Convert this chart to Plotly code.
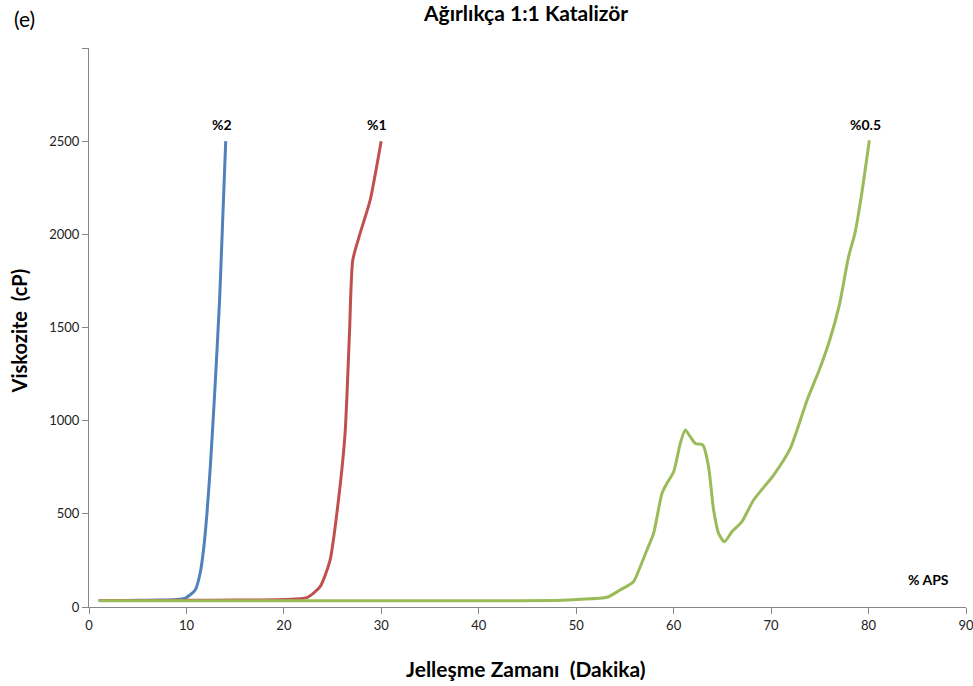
import plotly.graph_objects as go

# %2 APS
x_aps2 = [1, 3, 5, 7, 9, 9.9, 10.9, 11.4, 11.75, 12.1, 12.45, 12.9, 13.4, 13.7, 14.03]
y_aps2 = [35, 35, 36, 37, 40, 48, 91, 180, 306, 500, 753, 1150, 1647, 2050, 2500]

# %1 APS
x_aps1 = [1, 5, 10, 15, 20, 22.35, 23.72, 24.74, 25.6, 26.28, 26.73, 27.07, 27.82, 28.85, 29.98]
y_aps1 = [35, 35, 36, 37, 40, 50, 109, 252, 574, 932, 1468, 1862, 2005, 2183, 2500]

# %0.5 APS
x_aps05 = [1, 10, 20, 30, 40, 48, 50.4, 53.15, 54.5, 55.88, 56.57, 57.26, 57.94, 58.8, 59.31,
           60, 60.68, 61.19, 61.7, 62.22, 63.0, 63.58, 64.1, 64.61, 65.2, 65.98, 67.0, 68.2,
           70.26, 71.97, 73.69, 75, 76, 77, 77.95, 78.6, 79.3, 80.08]
y_aps05 = [33, 33, 33, 33, 33, 35, 41, 52, 91, 136, 216, 306, 395, 610, 664,
           726, 878, 950, 914, 878, 869, 753, 520, 395, 350, 404, 458, 574,
           708, 851, 1110, 1280, 1430, 1620, 1880, 2005, 2219, 2505]

x_ticks = [0, 10, 20, 30, 40, 50, 60, 70, 80, 90]
y_ticks = [0, 500, 1000, 1500, 2000, 2500, 3000]
y_tick_text = ["0", "500", "1000", "1500", "2000", "2500", ""]

FONT = "Lato, 'Open Sans', sans-serif"

fig = go.Figure()
fig.add_trace(go.Scatter(x=x_aps2, y=y_aps2, mode="lines", name="%2",
                         line=dict(color="#4F81BD", width=3, shape="spline", smoothing=0.6)))
fig.add_trace(go.Scatter(x=x_aps1, y=y_aps1, mode="lines", name="%1",
                         line=dict(color="#C0504D", width=3, shape="spline", smoothing=0.6)))
fig.add_trace(go.Scatter(x=x_aps05, y=y_aps05, mode="lines", name="%0.5",
                         line=dict(color="#9BBB59", width=3, shape="spline", smoothing=0.6)))

fig.update_layout(
    width=973, height=686,
    margin=dict(l=89, r=7, t=48, b=79, autoexpand=False),
    paper_bgcolor="white", plot_bgcolor="white",
    showlegend=False,
    font=dict(family=FONT, size=13, color="#000000"),
)
fig.update_xaxes(
    range=[0, 90], tickvals=x_ticks, showgrid=False, zeroline=False, automargin=False,
    showline=True, linecolor="#868686", linewidth=1,
    ticks="outside", ticklen=6, tickcolor="#868686", ticklabeloverflow="allow",
    tickfont=dict(size=13, family=FONT, color="#222222"),
)
fig.update_yaxes(
    range=[0, 3000], tickvals=y_ticks, ticktext=y_tick_text, showgrid=False, zeroline=False,
    automargin=False,
    showline=True, linecolor="#868686", linewidth=1,
    ticks="outside", ticklen=6, tickcolor="#868686", ticklabeloverflow="allow",
    tickfont=dict(size=13, family=FONT, color="#222222"),
)

# chart title and axis titles as paper-positioned text
fig.add_annotation(xref="paper", yref="paper", x=0.498, y=1.0, yshift=36,
                   xanchor="center", yanchor="middle", showarrow=False,
                   text="<b>Ağırlıkça 1:1 Katalizör</b>", font=dict(size=21, family=FONT))
fig.add_annotation(xref="paper", yref="paper", x=0.498, y=0, yshift=-61,
                   xanchor="center", yanchor="middle", showarrow=False,
                   text="<b>Jelleşme Zamanı  (Dakika)</b>", font=dict(size=21, family=FONT))
fig.add_annotation(xref="paper", yref="paper", x=0, xshift=-71, y=0.5, yshift=-4,
                   xanchor="center", yanchor="middle", showarrow=False, textangle=-90,
                   text="<b>Viskozite  (cP)</b>", font=dict(size=20, family=FONT))
fig.add_annotation(xref="paper", yref="paper", x=0, xshift=-65, y=1.0, yshift=30,
                   xanchor="center", yanchor="middle", showarrow=False,
                   text="(e)", font=dict(size=21, family=FONT))

labels = [("%2", 14.03), ("%1", 29.98), ("%0.5", 80.08)]
for txt, xv in labels:
    fig.add_annotation(x=xv, y=2500, text=f"<b>{txt}</b>", showarrow=False,
                       yshift=17, xshift=-4, font=dict(size=14, family=FONT))
fig.add_annotation(x=86.2, y=150, text="<b>% APS</b>", showarrow=False,
                   font=dict(size=14, family=FONT))

fig.write_html("out.html", config={"displayModeBar": False},
               post_script="document.body.style.margin='0';")
